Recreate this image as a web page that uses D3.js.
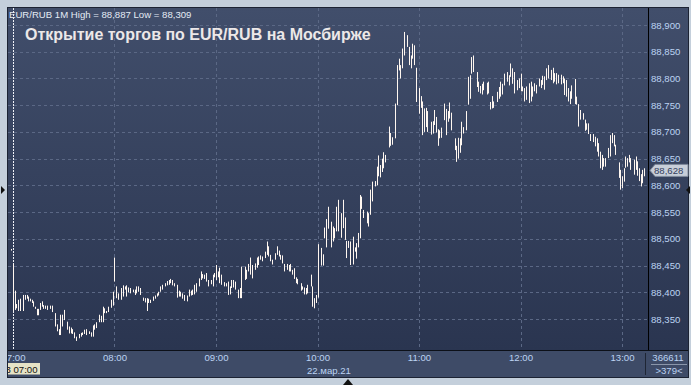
<!DOCTYPE html>
<html>
<head>
<meta charset="utf-8">
<script src="https://cdn.jsdelivr.net/npm/d3@7"></script>
<style>
  body { margin: 0; background: #c4cfdb; }
  svg { display: block; }
  text { font-family: "Liberation Sans", Arial, sans-serif; }
</style>
</head>
<body>
<div id="chart"></div>
<script>
// EUR/RUB 1-minute bars, 22 Mar 2021 (minutes after 07:00)
const barMinute = [-1,0,1,2,3,4,6,7,8,9,10,11,12,13,14,15,16,17,18,19,20,22,23,25,26,27,28,29,30,32,33,34,35,36,37,39,40,41,42,43,45,46,47,48,49,51,52,53,54,55,56,58,59,
  60,61,62,64,65,66,67,68,69,71,72,73,74,75,77,78,79,80,81,83,84,85,86,87,88,90,91,92,93,94,95,97,98,99,100,101,103,104,105,106,107,108,110,111,112,113,114,115,117,118,119,
  120,121,122,123,125,126,127,128,129,130,131,133,134,135,137,138,139,140,141,143,144,145,146,147,149,150,151,152,153,155,156,157,158,159,160,162,163,164,165,166,167,168,170,171,172,173,174,176,177,178,179,
  180,182,183,184,185,186,188,189,190,191,192,194,195,196,197,198,199,201,202,203,204,205,206,207,209,210,211,212,214,215,216,217,218,219,220,222,223,224,226,227,228,229,230,231,233,234,235,236,237,238,
  240,241,242,243,244,245,247,248,249,250,251,252,253,255,256,257,258,259,261,262,263,264,265,266,268,269,270,271,272,274,275,276,277,278,280,281,282,283,284,286,287,288,289,290,292,293,294,295,296,298,299,
  300,301,302,303,305,306,307,308,309,311,312,313,314,315,316,318,319,320,321,322,324,325,326,327,328,329,330,332,333,334,335,337,338,339,340,341,343,344,345,346,347,348,349,350,352,353,354,355,356,358,359,
  360,361,362,363,364,365,367,368,369,370,371,372,373];

const barHigh = [88.481,88.453,88.403,88.378,88.386,88.388,88.395,88.395,88.395,88.392,88.388,88.386,88.383,88.373,88.369,88.369,88.380,88.383,88.376,88.375,88.375,88.375,88.375,88.361,88.340,88.331,88.358,88.358,88.367,88.345,88.336,88.334,88.331,88.325,88.317,88.322,88.324,88.325,88.330,88.331,88.327,88.325,88.338,88.340,88.344,88.358,88.356,88.373,88.370,88.365,88.373,88.386,88.401,
  88.465,88.411,88.398,88.408,88.413,88.411,88.413,88.409,88.408,88.405,88.405,88.411,88.411,88.408,88.390,88.389,88.389,88.388,88.386,88.392,88.394,88.398,88.401,88.411,88.414,88.417,88.421,88.423,88.425,88.423,88.417,88.414,88.403,88.401,88.398,88.395,88.394,88.405,88.403,88.405,88.414,88.417,88.426,88.439,88.434,88.433,88.436,88.423,88.423,88.433,88.436,
  88.451,88.439,88.446,88.433,88.419,88.417,88.420,88.411,88.423,88.423,88.420,88.405,88.408,88.448,88.448,88.442,88.453,88.465,88.451,88.454,88.465,88.467,88.469,88.467,88.476,88.495,88.486,88.470,88.461,88.473,88.486,88.478,88.470,88.469,88.453,88.453,88.451,88.453,88.442,88.445,88.428,88.425,88.417,88.411,88.409,88.408,88.414,88.433,88.411,88.389,88.395,
  88.490,88.483,88.471,88.521,88.537,88.560,88.532,88.523,88.520,88.560,88.573,88.548,88.573,88.540,88.496,88.496,88.495,88.504,88.484,88.492,88.511,88.582,88.579,88.554,88.551,88.548,88.592,88.607,88.608,88.635,88.656,88.638,88.650,88.662,88.657,88.710,88.698,88.690,88.753,88.825,88.837,88.825,88.856,88.887,88.881,88.859,88.843,88.865,88.862,88.820,
  88.782,88.767,88.757,88.744,88.745,88.739,88.719,88.720,88.741,88.728,88.705,88.703,88.708,88.753,88.743,88.739,88.755,88.736,88.688,88.674,88.689,88.688,88.719,88.709,88.739,88.803,88.806,88.840,88.843,88.812,88.794,88.786,88.790,88.794,88.792,88.794,88.756,88.767,88.757,88.775,88.784,88.794,88.790,88.809,88.812,88.806,88.828,88.819,88.812,88.797,88.800,
  88.809,88.785,88.782,88.785,88.791,88.794,88.785,88.791,88.788,88.800,88.797,88.805,88.804,88.819,88.825,88.816,88.820,88.810,88.810,88.807,88.807,88.804,88.800,88.797,88.782,88.776,88.787,88.799,88.766,88.752,88.741,88.735,88.723,88.716,88.716,88.696,88.696,88.691,88.688,88.679,88.663,88.657,88.651,88.651,88.670,88.694,88.698,88.694,88.676,88.643,88.629,
  88.617,88.632,88.654,88.651,88.657,88.651,88.648,88.654,88.645,88.632,88.621,88.629,88.632];

const barLow = [88.478,88.365,88.367,88.370,88.365,88.365,88.365,88.386,88.388,88.383,88.383,88.380,88.373,88.369,88.357,88.357,88.367,88.373,88.369,88.369,88.367,88.369,88.363,88.336,88.327,88.320,88.320,88.336,88.348,88.330,88.323,88.323,88.322,88.314,88.309,88.314,88.317,88.320,88.322,88.320,88.322,88.317,88.317,88.330,88.333,88.344,88.344,88.344,88.361,88.361,88.363,88.371,88.375,
  88.420,88.389,88.386,88.386,88.392,88.405,88.392,88.400,88.398,88.400,88.395,88.398,88.401,88.395,88.384,88.381,88.365,88.380,88.380,88.384,88.388,88.392,88.394,88.401,88.405,88.411,88.413,88.414,88.417,88.413,88.411,88.390,88.392,88.392,88.388,88.384,88.383,88.392,88.394,88.395,88.396,88.401,88.411,88.423,88.426,88.425,88.420,88.411,88.415,88.411,88.428,
  88.423,88.428,88.417,88.414,88.411,88.411,88.395,88.396,88.408,88.409,88.405,88.389,88.389,88.389,88.423,88.425,88.439,88.433,88.426,88.442,88.446,88.451,88.461,88.458,88.464,88.470,88.467,88.458,88.452,88.461,88.470,88.467,88.461,88.454,88.439,88.442,88.439,88.439,88.433,88.425,88.417,88.415,88.403,88.405,88.396,88.396,88.398,88.411,88.373,88.370,88.380,
  88.390,88.450,88.450,88.501,88.484,88.519,88.484,88.495,88.501,88.514,88.514,88.502,88.520,88.498,88.464,88.483,88.451,88.452,88.476,88.463,88.484,88.501,88.556,88.539,88.529,88.523,88.545,88.570,88.598,88.600,88.617,88.615,88.625,88.632,88.643,88.671,88.674,88.676,88.688,88.750,88.815,88.800,88.819,88.843,88.859,88.825,88.819,88.837,88.825,88.756,
  88.734,88.745,88.694,88.700,88.709,88.700,88.695,88.697,88.713,88.699,88.674,88.688,88.689,88.722,88.694,88.719,88.725,88.703,88.666,88.644,88.650,88.661,88.675,88.697,88.703,88.751,88.762,88.809,88.812,88.784,88.775,88.772,88.770,88.778,88.770,88.772,88.742,88.744,88.745,88.756,88.762,88.766,88.770,88.787,88.794,88.787,88.803,88.790,88.772,88.778,88.782,
  88.776,88.776,88.757,88.760,88.754,88.757,88.766,88.776,88.772,88.785,88.782,88.788,88.779,88.797,88.800,88.797,88.791,88.794,88.789,88.791,88.789,88.791,88.769,88.766,88.757,88.752,88.762,88.752,88.751,88.710,88.723,88.723,88.702,88.704,88.696,88.683,88.681,88.673,88.663,88.654,88.632,88.629,88.635,88.635,88.651,88.654,88.679,88.673,88.657,88.614,88.592,
  88.595,88.607,88.633,88.635,88.643,88.629,88.620,88.629,88.618,88.608,88.598,88.604,88.617];

const lastPrice = 88.628;
const yTicks = [88.35, 88.40, 88.45, 88.50, 88.55, 88.60, 88.65, 88.70, 88.75, 88.80, 88.85, 88.90];
const hourTicks = [7, 8, 9, 10, 11, 12, 13];
const chartTitle = "Открытие торгов по EUR/RUB на Мосбирже";
const infoLine = "EUR/RUB 1M High = 88,887 Low = 88,309";
const dateLabel = "22.мар.21";
const cursorLabel = "23 07:00";
const countTop = "366611", countBottom = ">379<";

const W = 691, H = 385;
const panel = {left: 8, top: 8, right: 688, bottom: 377};
const plot = {left: 8, top: 8, right: 648, bottom: 350};

const day = (h, m) => new Date(2021, 2, 22, h, m);
const x = d3.scaleTime().domain([day(7, 0), day(13, 0)]).range([13, 622]);
const y = d3.scaleLinear().domain([88.35, 88.90]).range([319, 25]);

const ruLocale = d3.formatLocale({decimal: ",", thousands: " ", grouping: [3], currency: ["", ""]});
const fmt = ruLocale.format(".3f");

const bars = barMinute.map((m, i) => ({t: day(7, m), hi: barHigh[i], lo: barLow[i]}));

const svg = d3.select("#chart").append("svg")
  .attr("width", W).attr("height", H);

const defs = svg.append("defs");
const grad = defs.append("linearGradient").attr("id", "bg")
  .attr("x1", 0).attr("y1", 0).attr("x2", 0).attr("y2", 1);
grad.append("stop").attr("offset", 0).attr("stop-color", "#414e6b");
grad.append("stop").attr("offset", 1).attr("stop-color", "#2a3550");
defs.append("clipPath").attr("id", "clip")
  .append("rect").attr("x", plot.left).attr("y", plot.top)
  .attr("width", plot.right - plot.left).attr("height", plot.bottom - plot.top);
defs.append("clipPath").attr("id", "clipAxis")
  .append("rect").attr("x", plot.left).attr("y", plot.bottom)
  .attr("width", 637).attr("height", panel.bottom - plot.bottom);

// panel background
svg.append("rect")
  .attr("x", panel.left - 0.5).attr("y", panel.top - 0.5)
  .attr("width", panel.right - panel.left + 1).attr("height", panel.bottom - panel.top + 1)
  .attr("fill", "#3e4b67").attr("stroke", "#1c2333");
svg.append("rect")
  .attr("x", plot.left).attr("y", plot.top)
  .attr("width", panel.right - plot.left).attr("height", plot.bottom - plot.top)
  .attr("fill", "url(#bg)");

const g = svg.append("g").attr("clip-path", "url(#clip)");

// horizontal grid
g.selectAll(".hgrid").data(yTicks).enter().append("line")
  .attr("x1", plot.left).attr("x2", plot.right)
  .attr("y1", d => Math.round(y(d)) + 0.5).attr("y2", d => Math.round(y(d)) + 0.5)
  .attr("stroke", "#5b6885").attr("stroke-dasharray", "3,3");

// vertical grid (hours)
g.selectAll(".vgrid").data(hourTicks).enter().append("line")
  .attr("x1", d => Math.round(x(day(d, 0))) + 0.5).attr("x2", d => Math.round(x(day(d, 0))) + 0.5)
  .attr("y1", plot.top).attr("y2", plot.bottom)
  .attr("stroke", d => d === 7 ? "#eef0f6" : "#5b6885")
  .attr("stroke-dasharray", d => d === 7 ? "2,1" : "3,3");

// bars
g.selectAll(".bar").data(bars).enter().append("rect")
  .attr("x", d => Math.round(x(d.t)))
  .attr("y", d => y(d.hi))
  .attr("width", 1)
  .attr("height", d => Math.max(1.5, y(d.lo) - y(d.hi)))
  .attr("fill", "#fff7f0");

// right axis line and bottom line
svg.append("line").attr("x1", plot.right + 0.5).attr("x2", plot.right + 0.5)
  .attr("y1", plot.top).attr("y2", plot.bottom).attr("stroke", "#000");
svg.append("line").attr("x1", plot.left).attr("x2", panel.right)
  .attr("y1", plot.bottom + 0.5).attr("y2", plot.bottom + 0.5).attr("stroke", "#0c1018");

// y axis labels
const yAxis = svg.append("g")
  .attr("transform", `translate(${plot.right + 2},0)`)
  .call(d3.axisRight(y).tickValues(yTicks).tickSize(0).tickPadding(1).tickFormat(fmt));
yAxis.select(".domain").remove();
yAxis.selectAll("text").attr("fill", "#bcd3f2").attr("font-size", "9.6px")
  .attr("font-family", "Liberation Sans, Arial, sans-serif");

// x axis labels
const xAxis = svg.append("g")
  .attr("clip-path", "url(#clipAxis)")
  .append("g")
  .attr("transform", `translate(0,${plot.bottom})`)
  .call(d3.axisBottom(x).tickValues(hourTicks.map(h => day(h, 0))).tickSize(0).tickPadding(4)
    .tickFormat(d3.timeFormat("%H:%M")));
xAxis.select(".domain").remove();
xAxis.selectAll("text").attr("fill", "#bcd3f2").attr("font-size", "9.6px")
  .attr("font-family", "Liberation Sans, Arial, sans-serif");

// date label
svg.append("text").attr("x", 329).attr("y", 373.5).attr("text-anchor", "middle")
  .attr("fill", "#bcd3f2").attr("font-size", "9.6px").text(dateLabel);

// cursor time box
const cur = svg.append("g").attr("clip-path", "url(#clipAxis)");
cur.append("rect").attr("x", 8).attr("y", 363).attr("width", 32).attr("height", 11.5).attr("fill", "#e6e3c6");
cur.append("text").attr("x", 37.5).attr("y", 372.5).attr("text-anchor", "end")
  .attr("fill", "#111").attr("font-size", "9.6px").text(cursorLabel);

// bottom right counters
svg.append("line").attr("x1", 645.5).attr("x2", 645.5).attr("y1", 353).attr("y2", 375).attr("stroke", "#1e2534");
svg.append("line").attr("x1", 651).attr("x2", 687).attr("y1", 364.5).attr("y2", 364.5).attr("stroke", "#8a96aa");
svg.append("text").attr("x", 668).attr("y", 361).attr("text-anchor", "middle")
  .attr("fill", "#bcd3f2").attr("font-size", "9.6px").text(countTop);
svg.append("text").attr("x", 669).attr("y", 373.5).attr("text-anchor", "middle")
  .attr("fill", "#bcd3f2").attr("font-size", "9.6px").text(countBottom);

// last price marker
const yl = y(lastPrice);
svg.append("path")
  .attr("d", `M${plot.right + 2},${yl} L${plot.right + 7},${yl - 6} L${panel.right},${yl - 6} L${panel.right},${yl + 6} L${plot.right + 7},${yl + 6} Z`)
  .attr("fill", "#c7ced9").attr("stroke", "#7f8a9c");
svg.append("text").attr("x", plot.right + 6).attr("y", yl + 3.5)
  .attr("fill", "#33405c").attr("font-size", "9.6px").text(fmt(lastPrice));

// titles
svg.append("text").attr("x", 9).attr("y", 17.5).attr("fill", "#e4ebf5")
  .attr("font-size", "9.6px").text(infoLine);
svg.append("text").attr("x", 25).attr("y", 39.5).attr("fill", "#ece8e8")
  .attr("font-size", "16px").attr("font-weight", "bold").text(chartTitle);

// frame markers
svg.append("path").attr("d", "M1,186 L5,190 L1,194 Z").attr("fill", "#111");
svg.append("path").attr("d", "M690,186 L686,190 L690,194 Z").attr("fill", "#111");
svg.append("path").attr("d", "M343,385 L348,379 L353,385 Z").attr("fill", "#111");
</script>
</body>
</html>
